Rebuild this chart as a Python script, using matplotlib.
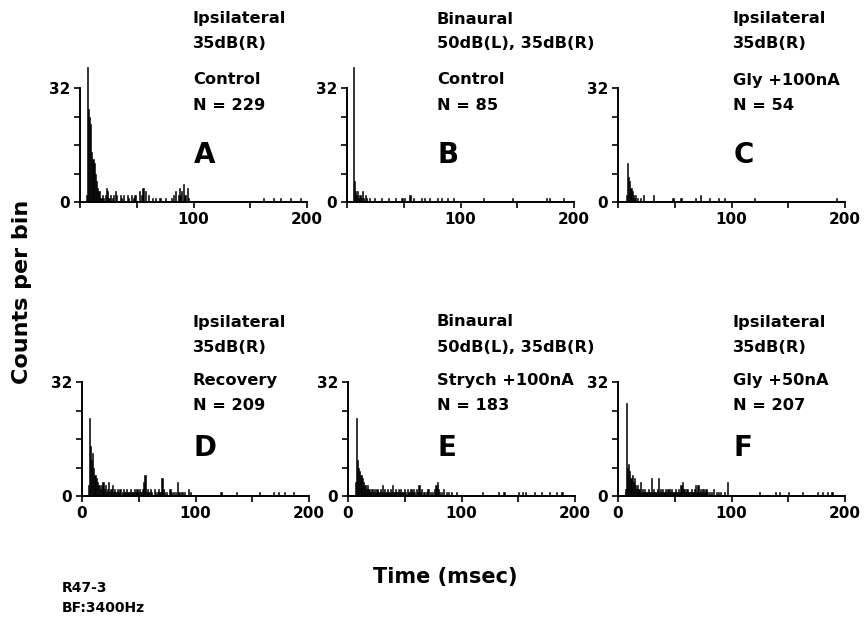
import numpy as np
import matplotlib.pyplot as plt

plt.rcParams['font.family'] = ['DejaVu Sans']
plt.rcParams['font.weight'] = 'bold'

# spike counts per 1 ms bin (only non-empty bins listed)
a_t = [5, 6, 7, 8, 9, 10, 11, 12, 13, 14, 15, 16, 17,
       18, 19, 20, 22, 23, 24, 25, 26, 28, 29, 31, 32, 35, 36, 38, 41, 42, 45,
       47, 48, 52, 54, 55, 57, 60, 63, 66, 70, 75, 80, 82, 84, 86, 87, 88, 89,
       91, 92, 94, 95, 161, 170, 176, 185, 194]
a_c = [2, 38, 26, 24, 22, 14, 12, 11, 8, 6, 4, 3, 3,
       1, 2, 1, 2, 4, 3, 1, 2, 1, 2, 3, 2, 2, 1, 2, 2, 1, 2,
       1, 2, 3, 2, 4, 3, 2, 1, 1, 1, 1, 1, 2, 3, 2, 4, 2, 3,
       5, 2, 4, 1, 1, 1, 1, 1, 1]

b_t = [5, 6, 7, 8, 9, 10, 11, 12, 13, 14, 16, 17, 19, 24, 30, 36, 42, 48, 50,
       55, 58, 65, 68, 72, 79, 83, 88, 93, 120, 145, 175, 178, 190]
b_c = [38, 6, 3, 2, 3, 1, 2, 1, 3, 1, 2, 1, 1, 1, 1, 1, 1, 1, 1,
       2, 1, 1, 1, 1, 1, 1, 1, 1, 1, 1, 1, 1, 1]

c_t = [7, 8, 9, 10, 11, 12, 13, 14, 15, 17, 19, 22, 31, 48, 55, 68, 72, 80,
       88, 93, 120, 192]
c_c = [2, 11, 7, 6, 4, 3, 2, 1, 2, 1, 1, 2, 2, 1, 1, 1, 2, 1, 1, 1, 1, 1]

d_t = [5, 6, 7, 8, 9, 10, 11, 12, 13, 14, 15, 16, 17, 18, 19, 20, 21, 22, 23,
       24, 25, 26, 27, 28, 29, 30, 31, 32, 33, 35, 36, 37, 38, 39, 40, 41, 42,
       43, 44, 45, 46, 47, 48, 49, 50, 51, 52, 53, 54, 55, 56, 57, 58, 59, 60,
       61, 63, 64, 66, 67, 68, 69, 70, 71, 72, 74, 77, 78, 80, 82, 84, 85, 87,
       88, 90, 93, 95, 122, 136, 156, 168, 173, 178, 186]
d_c = [3, 22, 14, 10, 12, 8, 6, 5, 4, 3, 3, 2, 3, 4, 2, 3, 1, 2, 4,
       1, 2, 3, 1, 2, 1, 1, 2, 1, 2, 1, 2, 1, 1, 2, 1, 1, 2,
       1, 1, 1, 2, 1, 2, 1, 2, 1, 1, 2, 4, 6, 1, 2, 1, 1, 2,
       1, 2, 1, 1, 2, 1, 1, 5, 2, 1, 1, 2, 1, 1, 1, 4, 1, 1,
       1, 1, 2, 1, 1, 1, 1, 1, 1, 1, 1]

e_t = [6, 7, 8, 9, 10, 11, 12, 13, 14, 15, 16, 17, 18, 19, 20, 21, 22, 23, 24,
       25, 26, 27, 28, 29, 30, 31, 32, 33, 34, 35, 36, 37, 38, 39, 40, 41, 42,
       43, 44, 45, 46, 47, 48, 49, 50, 52, 53, 54, 55, 56, 57, 58, 60, 61, 62,
       63, 64, 66, 67, 69, 70, 72, 74, 76, 77, 78, 79, 80, 82, 84, 86, 88, 91,
       95, 118, 132, 137, 150, 153, 156, 164, 170, 177, 183, 188]
e_c = [4, 22, 10, 8, 7, 6, 5, 4, 3, 3, 2, 3, 2, 1, 2, 2, 1, 2, 1,
       2, 1, 1, 2, 1, 3, 1, 2, 1, 2, 1, 1, 2, 1, 3, 1, 2, 1,
       1, 2, 1, 2, 1, 1, 2, 1, 2, 1, 1, 2, 1, 2, 1, 2, 1, 3,
       1, 2, 1, 1, 1, 2, 1, 1, 2, 3, 4, 2, 1, 1, 2, 1, 1, 1,
       1, 1, 1, 1, 1, 1, 1, 1, 1, 1, 1, 1]

f_t = [6, 7, 8, 9, 10, 11, 12, 13, 14, 15, 16, 17, 18, 19, 20, 21, 22, 23, 24,
       25, 26, 27, 28, 29, 30, 31, 32, 33, 34, 35, 36, 37, 38, 39, 40, 41, 42,
       43, 44, 45, 46, 47, 48, 49, 50, 51, 52, 53, 54, 55, 56, 57, 58, 59, 60,
       61, 62, 63, 64, 65, 66, 67, 68, 69, 70, 71, 72, 73, 74, 75, 76, 77, 78,
       80, 82, 84, 86, 88, 90, 93, 96, 124, 138, 142, 150, 162, 175, 180, 184,
       188]
f_c = [2, 26, 8, 9, 7, 5, 6, 4, 5, 3, 2, 3, 2, 4, 1, 2, 1, 2, 1,
       1, 2, 1, 1, 5, 1, 2, 1, 1, 2, 5, 1, 2, 1, 2, 1, 2, 1,
       2, 2, 2, 1, 2, 1, 1, 2, 1, 1, 2, 1, 3, 4, 2, 2, 1, 2,
       2, 1, 1, 2, 1, 1, 2, 3, 1, 3, 1, 2, 1, 2, 2, 1, 2, 1,
       1, 1, 2, 1, 1, 1, 1, 4, 1, 1, 1, 1, 1, 1, 1, 1,
       1]

side = ["Ipsilateral", "Binaural", "Ipsilateral", "Ipsilateral", "Binaural", "Ipsilateral"]
level = ["35dB(R)", "50dB(L), 35dB(R)", "35dB(R)", "35dB(R)", "50dB(L), 35dB(R)", "35dB(R)"]
condition = ["Control", "Control", "Gly +100nA", "Recovery", "Strych +100nA", "Gly +50nA"]
n_spikes = [229, 85, 54, 209, 183, 207]
letters = ["A", "B", "C", "D", "E", "F"]
data = [(a_t, a_c), (b_t, b_c), (c_t, c_c), (d_t, d_c), (e_t, e_c), (f_t, f_c)]

W, H = 865, 621
fig = plt.figure(figsize=(W / 100, H / 100), dpi=100)

lefts = [80, 347, 618, 82, 348, 618]
bases = [202, 202, 202, 496, 496, 496]
text_x = [193, 437, 733, 193, 437, 733]
# text line centres (px from top) for top row / bottom row
rows_y = {202: [19, 44, 80, 105, 155], 496: [322, 347, 381, 405, 448]}
px_per_count = 3.56


def put(x, y, s, size):
    fig.text(x / W, 1 - y / H, s, fontsize=size, fontweight='bold', va='center')


for i in range(6):
    t, c = data[i]
    ax = fig.add_axes([lefts[i] / W, 1 - bases[i] / H, 227 / W, 40 * px_per_count / H])
    ax.bar(t, c, width=1, align='edge', color='black', edgecolor='black', linewidth=0.4)
    ax.set_xlim(0, 200)
    ax.set_ylim(0, 40)
    ax.patch.set_alpha(0)
    for s in ['top', 'right']:
        ax.spines[s].set_visible(False)
    ax.spines['left'].set_bounds(0, 32)
    ax.spines['bottom'].set_bounds(0, 200)
    for s in ['left', 'bottom']:
        ax.spines[s].set_linewidth(1.4)
    ax.set_yticks([0, 8, 16, 24, 32])
    ax.set_yticklabels(['0', '', '', '', '32'])
    ax.set_xticks([0, 50, 100, 150, 200])
    if i < 3:
        ax.set_xticklabels(['', '', '100', '', '200'])
    else:
        ax.set_xticklabels(['0', '', '100', '', '200'])
    ax.tick_params(direction='out', length=4, width=1.2, labelsize=11, pad=3)
    for lab in ax.get_xticklabels() + ax.get_yticklabels():
        lab.set_fontweight('bold')

    ys = rows_y[bases[i]]
    put(text_x[i], ys[0], side[i], 11.7)
    put(text_x[i], ys[1], level[i], 11.7)
    put(text_x[i], ys[2], condition[i], 11.7)
    put(text_x[i], ys[3], "N = %d" % n_spikes[i], 11.7)
    put(text_x[i] + 1, ys[4], letters[i], 20)

fig.text(22 / W, 1 - 292 / H, "Counts per bin", rotation=90, fontsize=16,
         fontweight='bold', ha='center', va='center')
fig.text(445 / W, 1 - 577 / H, "Time (msec)", fontsize=15, fontweight='bold',
         ha='center', va='center')
put(62, 588, "R47-3", 10)
put(62, 608, "BF:3400Hz", 10)

fig.savefig("out.png", dpi=100)
